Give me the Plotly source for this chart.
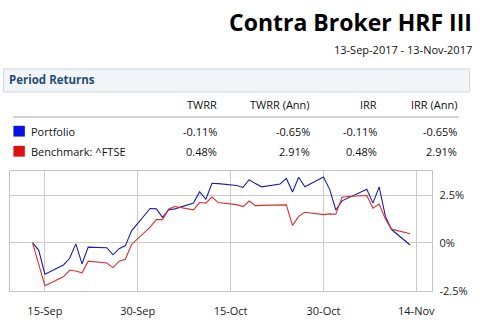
import plotly.graph_objects as go

W, H = 484, 335

# Daily cumulative returns (%), business days
dates = [
    "2017-09-13", "2017-09-14", "2017-09-15", "2017-09-18", "2017-09-19", "2017-09-20",
    "2017-09-21", "2017-09-22", "2017-09-25", "2017-09-26", "2017-09-27", "2017-09-28",
    "2017-09-29", "2017-10-02", "2017-10-03", "2017-10-04", "2017-10-05", "2017-10-06",
    "2017-10-09", "2017-10-10", "2017-10-11", "2017-10-12", "2017-10-13", "2017-10-16",
    "2017-10-17", "2017-10-18", "2017-10-19", "2017-10-20", "2017-10-23", "2017-10-24",
    "2017-10-25", "2017-10-26", "2017-10-27", "2017-10-30", "2017-10-31", "2017-11-01",
    "2017-11-02", "2017-11-03", "2017-11-06", "2017-11-07", "2017-11-08", "2017-11-09",
    "2017-11-10", "2017-11-13",
]
portfolio = [
    0.00, -0.37, -1.63, -1.15, -0.80, -0.05,
    -1.09, -0.22, -0.25, -0.62, -0.30, -0.14,
    0.63, 1.80, 1.78, 1.34, 1.73, 1.78,
    2.08, 2.67, 2.28, 3.12, 3.10, 3.00,
    2.90, 3.30, 3.10, 2.93, 3.08, 3.37,
    2.66, 3.43, 2.93, 3.45, 2.80, 1.72,
    2.20, 2.35, 2.80, 2.08, 2.93, 1.40,
    0.70, -0.11,
]
benchmark = [
    0.00, -1.10, -2.23, -1.77, -1.43, -1.47,
    -1.56, -0.95, -1.05, -1.29, -0.95, -0.85,
    -0.08, 0.83, 1.22, 1.22, 1.77, 1.90,
    1.73, 2.11, 2.08, 2.40, 2.11, 2.00,
    1.90, 2.19, 1.95, 1.96, 1.97, 1.99,
    0.92, 1.39, 1.60, 1.48, 1.52, 1.50,
    2.39, 2.43, 2.48, 1.82, 2.03, 1.25,
    0.72, 0.48,
]

x_tick_vals = ["2017-09-15", "2017-09-30", "2017-10-15", "2017-10-30", "2017-11-14"]
x_tick_text = ["15-Sep", "30-Sep", "15-Oct", "30-Oct", "14-Nov"]
y_tick_vals = [-2.5, 0, 2.5]
y_tick_text = ["-2.5%", "0%", "2.5%"]

# Period returns table
columns = ["TWRR", "TWRR (Ann)", "IRR", "IRR (Ann)"]
series_names = ["Portfolio", "Benchmark: ^FTSE"]
series_colors = ["#0a10e0", "#e01010"]
line_colors = ["#1c1cb0", "#d83030"]
table_values = [
    ["-0.11%", "-0.65%", "-0.11%", "-0.65%"],
    ["0.48%", "2.91%", "0.48%", "2.91%"],
]

FONT = "Open Sans"


def px(x):
    return x / W


def py(y):
    return 1 - y / H


def label(text, x, y, anchor, size=11, color="#111111"):
    return dict(text=text, x=px(x), y=py(y), xref="paper", yref="paper",
                xanchor=anchor, yanchor="middle", showarrow=False,
                font=dict(family=FONT, size=size, color=color))


fig = go.Figure()
for name, vals, col in zip(series_names, [portfolio, benchmark], line_colors):
    fig.add_trace(go.Scatter(
        x=dates, y=vals, mode="lines", name=name,
        line=dict(color=col, width=1.1), hoverinfo="skip",
    ))

annotations = []
shapes = []

# Title and period
annotations.append(label("<b>Contra Broker HRF III</b>", 477, 22, "right", 23, "#000000"))
annotations.append(label("13-Sep-2017 - 13-Nov-2017", 477, 51, "right", 11))

# Panel header
shapes.append(dict(type="rect", xref="paper", yref="paper",
                   x0=px(3.5), x1=px(472.5), y0=py(94), y1=py(70.5),
                   fillcolor="#f3f6f9", line=dict(color="#cbd6e2", width=1), layer="below"))
annotations.append(label("<b>Period Returns</b>", 7, 81, "left", 11.5, "#2b4a78"))

# Table header
col_right = [220, 314, 381, 462]
for c, xr in zip(columns, col_right):
    annotations.append(label(c, xr, 107, "right"))
shapes.append(dict(type="line", xref="paper", yref="paper",
                   x0=px(13), x1=px(462), y0=py(119.5), y1=py(119.5),
                   line=dict(color="#a8a8a8", width=1)))

# Table rows
row_y = [134, 154.5]
for name, col, vals, ry in zip(series_names, series_colors, table_values, row_y):
    shapes.append(dict(type="rect", xref="paper", yref="paper",
                       x0=px(13.5), x1=px(25), y0=py(ry + 5.5), y1=py(ry - 5.5),
                       fillcolor=col, line=dict(width=0)))
    annotations.append(label(name, 29.5, ry, "left"))
    for v, xr in zip(vals, col_right):
        annotations.append(label(v, xr, ry, "right"))

fig.update_layout(
    width=W, height=H,
    margin=dict(l=0, r=0, t=0, b=0),
    paper_bgcolor="white", plot_bgcolor="white",
    showlegend=False,
    annotations=annotations,
    shapes=shapes,
    xaxis=dict(
        type="date",
        domain=[px(10), px(435)],
        range=["2017-09-09 08:30", "2017-11-16 14:00"],
        tickvals=x_tick_vals, ticktext=x_tick_text,
        showgrid=True, gridcolor="#cccccc", gridwidth=1,
        showline=True, linecolor="#c4c4c4", linewidth=1, mirror=True,
        zeroline=False, ticks="", ticklabelstandoff=10,
        tickfont=dict(family=FONT, size=11, color="#222222"),
        fixedrange=True,
    ),
    yaxis=dict(
        domain=[py(297), py(175)],
        range=[-2.5, 3.74],
        side="right",
        tickvals=y_tick_vals, ticktext=y_tick_text,
        showgrid=True, gridcolor="#cccccc", gridwidth=1,
        showline=True, linecolor="#c4c4c4", linewidth=1, mirror=True,
        zeroline=False, ticks="", ticklabelstandoff=4,
        tickfont=dict(family=FONT, size=11, color="#222222"),
        fixedrange=True,
    ),
)

fig.write_html("out.html", config={"displayModeBar": False})
